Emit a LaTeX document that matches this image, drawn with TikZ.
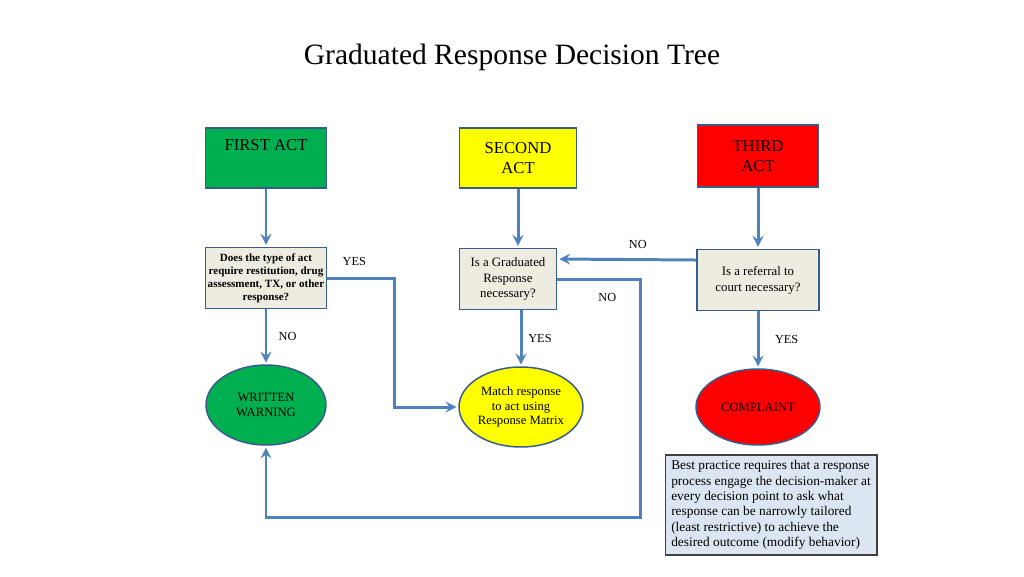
\documentclass[tikz,border=0pt]{standalone}
\usepackage{fontspec}
\setmainfont{Liberation Serif}
\usetikzlibrary{shapes.geometric,positioning}

\definecolor{actgreen}{RGB}{0,176,80}
\definecolor{actyellow}{RGB}{255,255,0}
\definecolor{actred}{RGB}{255,0,0}
\definecolor{actedge}{RGB}{56,93,138}
\definecolor{askfill}{RGB}{238,236,225}
\definecolor{flowblue}{RGB}{79,129,189}
\definecolor{notefill}{RGB}{220,230,242}
\definecolor{noteedge}{RGB}{64,64,64}

\begin{document}
\begin{tikzpicture}[x=0.02cm,y=-0.02cm,->,>=stealth,shorten >=1pt,
    act node/.style={rectangle,draw=actedge,line width=0.85pt,minimum width=2.42cm,minimum height=1.2cm,align=center,font=\fontsize{9.5}{11.3}\selectfont},
    ask node/.style={rectangle,draw=actedge,fill=askfill,line width=1.1pt,minimum height=1.22cm,align=center,inner sep=1pt,font=\fontsize{7.3}{9}\selectfont},
    end node/.style={ellipse,draw=actedge,line width=0.85pt,minimum width=2.44cm,minimum height=1.6cm,align=center,inner sep=0pt,font=\fontsize{7.2}{8.5}\selectfont},
    flow/.style={draw=flowblue,line width=1.7pt},
    tag/.style={font=\fontsize{7}{8}\selectfont,text=black}]

    \useasboundingbox (0,0) rectangle (1024,576);

    \node[font=\fontsize{16.8}{20}\selectfont] (title) at (512,57) {Graduated Response Decision Tree};

    % the three acts
    \node[act node, fill=actgreen] (1) at (266,158) {FIRST ACT\\\strut};
    \node[act node, fill=actyellow, minimum width=2.34cm] (2) at (518,158) {SECOND\\ACT};
    \node[act node, fill=actred, minimum height=1.24cm] (3) at (758,156) {THIRD\\ACT};

    % questions
    \node[ask node, minimum width=2.42cm, font=\bfseries\fontsize{6.3}{7.4}\selectfont] (4) at (266,278) {Does the type of act\\require restitution, drug\\assessment, TX, or other\\response?};
    \node[ask node, minimum width=1.94cm] (5) at (508,279) {Is a Graduated\\Response\\necessary?};
    \node[ask node, minimum width=2.44cm] (6) at (758,280) {Is a referral to\\court necessary?};

    % outcomes
    \node[end node, fill=actgreen, minimum width=2.4cm] (7) at (266,405) {WRITTEN\\WARNING};
    \node[end node, fill=actyellow, minimum width=2.48cm] (8) at (521,407) {Match response\\to act using\\Response Matrix};
    \node[end node, fill=actred, minimum width=2.48cm, minimum height=1.52cm] (9) at (758,407) {COMPLAINT};

    \node[rectangle, draw=noteedge, fill=notefill, line width=0.6pt, minimum width=4.24cm, minimum height=2cm, align=left, inner sep=2pt, font=\fontsize{7.6}{8.75}\selectfont] (10) at (771,505) {Best practice requires that a response\\process engage the decision-maker at\\every decision point to ask what\\response can be narrowly tailored\\(least restrictive) to achieve the\\desired outcome (modify behavior)};

    \draw[flow] (1) -- (4);
    \draw[flow] (2) -- (5.north -| 2);
    \draw[flow] (3) -- (6);

    \draw[flow] (4) -- node[tag, right=3pt] (n1) {NO} (7);
    \draw[flow] (5.south -| 8) -- node[tag, right=0pt] (y2) {YES} (8);
    \draw[flow] (6) -- node[tag, right=5.5pt] (y3) {YES} (9);

    \draw[flow] ([yshift=0.4cm]6.west) -- node[tag, above=2pt, pos=0.42] (n3) {NO} ([yshift=0.4cm]5.east);
    \draw[flow] (4.east) -- node[tag, above=3pt, pos=0.4] (y1) {YES} ++(67,0) |- (8.west);
    \draw[flow] (5.east) -- node[tag, below=4pt, pos=0.6] (n2) {NO} ++(83,0) -- ++(0,238) -| (7.south);

\end{tikzpicture}
\end{document}
